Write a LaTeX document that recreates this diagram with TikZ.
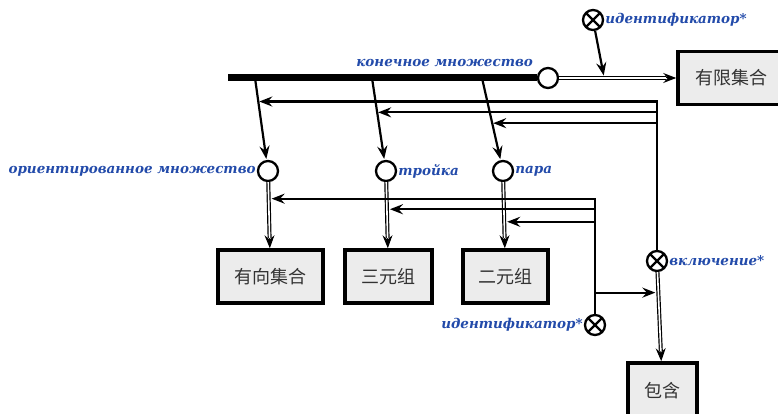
\documentclass[tikz,border=0pt]{standalone}
\usepackage{fontspec}
\newfontfamily\rufont{DejaVu Serif}
\newfontfamily\cjk{Noto Sans CJK SC}
\usetikzlibrary{arrows.meta, positioning, calc}
\definecolor{scblue}{RGB}{35,75,170}
\definecolor{scgray}{RGB}{236,236,236}
\tikzset{
  elem/.style={circle, draw, fill=white, line width=2.3pt, minimum size=20pt, inner sep=0pt},
  xelem/.style={elem, path picture={
      \draw[line width=2.3pt] (path picture bounding box.north west) -- (path picture bounding box.south east)
        (path picture bounding box.north east) -- (path picture bounding box.south west);}},
  lbl/.style={font=\rufont\bfseries\itshape\fontsize{13.5}{15}\selectfont, text=scblue, inner sep=1pt},
  scbox/.style={draw, line width=3.6pt, fill=scgray, text=black!80, font=\cjk\fontsize{18}{20}\selectfont,
      minimum height=53pt, inner sep=0pt, path picture={
      \fill (path picture bounding box.north west) -- ++(10pt,0) -- ++(-10pt,-10pt) -- cycle;}},
  bus/.style={line width=7pt},
  arc/.style={line width=2.2pt, -{Stealth[length=13pt,width=10pt,inset=4.5pt]}, shorten >=1pt},
  dblhead/.style={line width=1pt, -{Stealth[length=13pt,width=10pt,inset=4.5pt]}},
  dblbody/.style={double, double distance=1.6pt, line width=1.2pt, shorten >=10pt}
}
\begin{document}
\begin{tikzpicture}[x=1pt, y=-1pt]
  \useasboundingbox (0,0) rectangle (778,414);
  % boxes
  \node[scbox, minimum width=106pt] (fin) at (731,78) {有限集合};
  \node[scbox, minimum width=105pt] (ds) at (270.5,276.5) {有向集合};
  \node[scbox, minimum width=87pt] (tri) at (388.5,276.5) {三元组};
  \node[scbox, minimum width=85pt] (dvo) at (505.5,276.5) {二元组};
  \node[scbox, minimum width=69pt, minimum height=56pt] (vkb) at (662.5,391) {包含};
  % elements
  \node[elem, label={[lbl, xshift=-6pt, yshift=2pt]above left:конечное множество}] (ks) at (548,78) {};
  \node[elem, label={[lbl]left:ориентированное множество}] (or) at (268,171) {};
  \node[elem, label={[lbl]right:тройка}] (tr) at (386,171) {};
  \node[elem, label={[lbl]right:пара}] (pa) at (503,171) {};
  \node[xelem, label={[lbl]right:идентификатор*}] (id1) at (593,20) {};
  \node[xelem, label={[lbl]right:включение*}] (vkl) at (657,261) {};
  \node[xelem, label={[lbl]left:идентификатор*}] (id2) at (595,325) {};
  % bus
  \coordinate (bs) at (228,78);
  \coordinate (b1) at (255,78);
  \coordinate (b2) at (372,78);
  \coordinate (b3) at (482,78);
  \draw[bus] (bs) -- (ks);
  % double arrows
  \draw[dblhead] (ks) -- (fin);
  \draw[dblbody] (ks) -- coordinate[pos=.385] (m0) (fin);
  \draw[dblhead] (or) -- (ds);
  \draw[dblbody] (or) -- coordinate[pos=.25] (n1) (ds);
  \draw[dblhead] (tr) -- (tri);
  \draw[dblbody] (tr) -- coordinate[pos=.41] (n2) (tri);
  \draw[dblhead] (pa) -- (dvo);
  \draw[dblbody] (pa) -- coordinate[pos=.6] (n3) (dvo);
  \draw[dblhead] (vkl) -- (vkb);
  \draw[dblbody] (vkl) -- coordinate[pos=.23] (n4) (vkb);
  % arcs from the bus
  \draw[arc] (b1) -- coordinate[pos=.287] (m1) (or);
  \draw[arc] (b2) -- coordinate[pos=.419] (m2) (tr);
  \draw[arc] (b3) -- coordinate[pos=.55] (m3) (pa);
  % arcs to arcs
  \draw[arc, shorten >=2.5pt] (id1) -- (m0);
  \draw[arc] (vkl) |- (m1);
  \draw[arc] (m2 -| vkl) -- (m2);
  \draw[arc] (m3 -| vkl) -- (m3);
  \draw[arc, shorten >=3pt] (id2) |- (n1);
  \draw[arc, shorten >=3pt] (n2 -| id2) -- (n2);
  \draw[arc, shorten >=3pt] (n3 -| id2) -- (n3);
  \draw[arc, shorten >=3pt] (n4 -| id2) -- (n4);
\end{tikzpicture}
\end{document}
